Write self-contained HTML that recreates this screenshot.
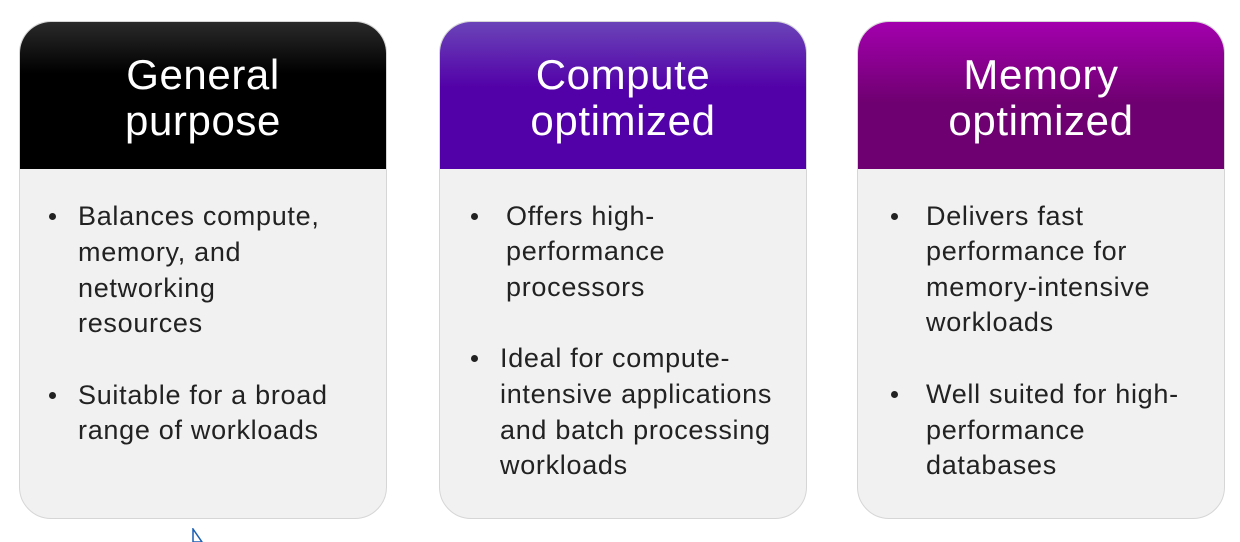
<!DOCTYPE html>
<html><head><style>
body{margin:0;width:1240px;height:542px;background:#fff;position:relative;overflow:hidden;font-family:"Liberation Sans",sans-serif;}
.card{position:absolute;top:21px;width:368px;height:498px;border-radius:32px;background:#f1f1f1;border:1px solid #d6d6d6;box-sizing:border-box;overflow:hidden;}
.hd{position:absolute;left:0;top:0;width:100%;height:147px;color:#fff;text-align:center;font-size:42px;line-height:46px;letter-spacing:0.6px;}
.hd div{position:absolute;width:100%;}
.t{position:absolute;font-size:27px;letter-spacing:0.7px;color:#222;white-space:nowrap;line-height:36px;}
.b{position:absolute;width:7px;height:7px;border-radius:50%;background:#222;}
</style></head><body>
<div class="card" style="left:19px">
 <div class="hd" style="background:linear-gradient(#2a2a2a,#000 35%)"><div style="top:30px">General</div><div style="top:76px">purpose</div></div>
</div>
<div class="card" style="left:439px">
 <div class="hd" style="background:linear-gradient(#6b44b8,#5200a8 45%)"><div style="top:30px">Compute</div><div style="top:76px">optimized</div></div>
</div>
<div class="card" style="left:857px">
 <div class="hd" style="background:linear-gradient(#a300ad,#6f0071 55%)"><div style="top:30px">Memory</div><div style="top:76px">optimized</div></div>
</div>

<div class="b" style="left:49px;top:213px"></div>
<div class="t" style="left:78px;top:198px">Balances compute,</div>
<div class="t" style="left:78px;top:234px">memory, and</div>
<div class="t" style="left:78px;top:270px">networking</div>
<div class="t" style="left:78px;top:305px">resources</div>
<div class="b" style="left:49px;top:392px"></div>
<div class="t" style="left:78px;top:377px">Suitable for a broad</div>
<div class="t" style="left:78px;top:412px">range of workloads</div>

<div class="b" style="left:471px;top:213px"></div>
<div class="t" style="left:506px;top:198px">Offers high-</div>
<div class="t" style="left:506px;top:233px">performance</div>
<div class="t" style="left:506px;top:269px">processors</div>
<div class="b" style="left:471px;top:355px"></div>
<div class="t" style="left:500px;top:340px">Ideal for compute-</div>
<div class="t" style="left:500px;top:376px">intensive applications</div>
<div class="t" style="left:500px;top:412px">and batch processing</div>
<div class="t" style="left:500px;top:447px">workloads</div>

<div class="b" style="left:891px;top:213px"></div>
<div class="t" style="left:926px;top:198px">Delivers fast</div>
<div class="t" style="left:926px;top:233px">performance for</div>
<div class="t" style="left:926px;top:269px">memory-intensive</div>
<div class="t" style="left:926px;top:304px">workloads</div>
<div class="b" style="left:891px;top:391px"></div>
<div class="t" style="left:926px;top:376px">Well suited for high-</div>
<div class="t" style="left:926px;top:412px">performance</div>
<div class="t" style="left:926px;top:447px">databases</div>

<svg style="position:absolute;left:190px;top:528px" width="16" height="14"><path d="M3 1 L3 14 L12 14 Z" fill="#fff" stroke="#1a5fb4" stroke-width="1.5"/></svg>
</body></html>
